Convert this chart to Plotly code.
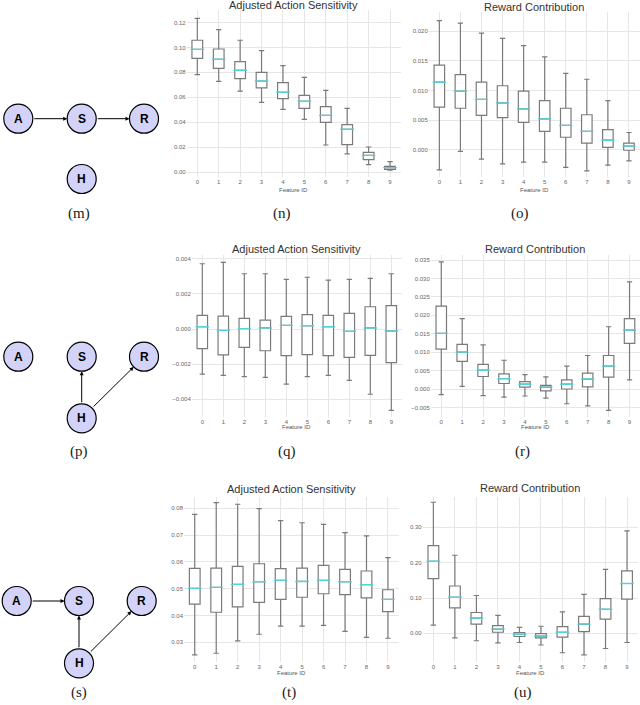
import plotly.graph_objects as go

W, H = 640, 705

feature_ids = list(range(10))
feature_labels = [str(i) for i in feature_ids]

# ---------------- data ----------------
# (n) Adjusted Action Sensitivity, graph m
n_upper = [0.1234, 0.1143, 0.1058, 0.0975, 0.0854, 0.0760, 0.0656, 0.0511, 0.0201, 0.0083]
n_q3    = [0.1058, 0.0988, 0.0886, 0.0800, 0.0718, 0.0616, 0.0525, 0.0380, 0.0158, 0.0046]
n_med   = [0.0985, 0.0905, 0.0817, 0.0731, 0.0640, 0.0568, 0.0455, 0.0343, 0.0134, 0.0035]
n_q1    = [0.0913, 0.0833, 0.0750, 0.0675, 0.0589, 0.0511, 0.0399, 0.0220, 0.0099, 0.0022]
n_lower = [0.0782, 0.0728, 0.0650, 0.0560, 0.0503, 0.0423, 0.0217, 0.0145, 0.0059, 0.0015]

# (o) Reward Contribution, graph m
o_upper = [0.0218, 0.0214, 0.0197, 0.0188, 0.0176, 0.0157, 0.0129, 0.0119, 0.0083, 0.0029]
o_q3    = [0.0143, 0.0127, 0.0114, 0.0108, 0.0099, 0.0083, 0.0070, 0.0059, 0.0034, 0.0011]
o_med   = [0.0114, 0.0099, 0.0085, 0.0079, 0.0069, 0.0052, 0.0041, 0.0031, 0.0016, 0.0006]
o_q1    = [0.0072, 0.0070, 0.0058, 0.0054, 0.0046, 0.0031, 0.0021, 0.0011, 0.0004, -0.0001]
o_lower = [-0.0034, -0.0003, -0.0016, -0.0024, -0.0021, -0.0021, -0.0030, -0.0036, -0.0026, -0.0019]

# (q) Adjusted Action Sensitivity, graph p
q_upper = [0.00372, 0.00380, 0.00315, 0.00315, 0.00283, 0.00295, 0.00279, 0.00283, 0.00289, 0.00315]
q_q3    = [0.00078, 0.00074, 0.00061, 0.00051, 0.00072, 0.00082, 0.00078, 0.00089, 0.00127, 0.00133]
q_med   = [0.00013, -0.00008, 0.00002, 0.00006, 0.00021, 0.00019, 0.00013, -0.00013, 0.00006, -0.00011]
q_q1    = [-0.00112, -0.00148, -0.00105, -0.00124, -0.00152, -0.00146, -0.00152, -0.00162, -0.00150, -0.00192]
q_lower = [-0.00257, -0.00264, -0.00272, -0.00276, -0.00314, -0.00272, -0.00264, -0.00293, -0.00372, -0.00464]

# (r) Reward Contribution, graph p
r_upper = [0.0345, 0.0191, 0.0120, 0.0078, 0.0039, 0.0033, 0.0062, 0.0091, 0.0169, 0.0291]
r_q3    = [0.0225, 0.0121, 0.0067, 0.0041, 0.0020, 0.0010, 0.0025, 0.0043, 0.0091, 0.0191]
r_med   = [0.0151, 0.0100, 0.0051, 0.0028, 0.0013, 0.0005, 0.0013, 0.0027, 0.0062, 0.0160]
r_q1    = [0.0108, 0.0075, 0.0034, 0.0015, 0.0005, -0.0005, 0.0000, 0.0006, 0.0032, 0.0124]
r_lower = [-0.0015, 0.0007, -0.0018, -0.0022, -0.0019, -0.0025, -0.0040, -0.0046, -0.0058, 0.0025]

# (t) Adjusted Action Sensitivity, graph s
t_upper = [0.0777, 0.0821, 0.0815, 0.0799, 0.0754, 0.0746, 0.0740, 0.0709, 0.0697, 0.0616]
t_q3    = [0.0576, 0.0577, 0.0583, 0.0593, 0.0575, 0.0577, 0.0587, 0.0572, 0.0566, 0.0496]
t_med   = [0.0501, 0.0505, 0.0516, 0.0526, 0.0531, 0.0527, 0.0531, 0.0526, 0.0515, 0.0460]
t_q1    = [0.0442, 0.0412, 0.0432, 0.0449, 0.0460, 0.0468, 0.0481, 0.0478, 0.0466, 0.0414]
t_lower = [0.0253, 0.0259, 0.0305, 0.0330, 0.0360, 0.0360, 0.0363, 0.0341, 0.0318, 0.0315]

# (u) Reward Contribution, graph s
u_upper = [0.371, 0.221, 0.107, 0.051, 0.017, 0.020, 0.061, 0.110, 0.181, 0.290]
u_q3    = [0.248, 0.134, 0.059, 0.022, 0.002, -0.001, 0.019, 0.048, 0.098, 0.177]
u_med   = [0.204, 0.102, 0.043, 0.012, -0.003, -0.008, 0.003, 0.026, 0.068, 0.141]
u_q1    = [0.155, 0.072, 0.026, 0.003, -0.009, -0.013, -0.011, 0.005, 0.040, 0.097]
u_lower = [0.023, -0.013, -0.021, -0.027, -0.026, -0.033, -0.055, -0.061, -0.043, -0.026]

# tick labels
n_ticks = [0.00, 0.02, 0.04, 0.06, 0.08, 0.10, 0.12]
o_ticks = [0.000, 0.005, 0.010, 0.015, 0.020]
q_ticks = [-0.004, -0.002, 0.000, 0.002, 0.004]
r_ticks = [-0.005, 0.000, 0.005, 0.010, 0.015, 0.020, 0.025, 0.030, 0.035]
t_ticks = [0.03, 0.04, 0.05, 0.06, 0.07, 0.08]
u_ticks = [0.00, 0.10, 0.20, 0.30]

title_left = "Adjusted Action Sensitivity"
title_right = "Reward Contribution"
xlabel = "Feature ID"
sub_labels = ["(m)", "(n)", "(o)", "(p)", "(q)", "(r)", "(s)", "(t)", "(u)"]

# ---------------- layout constants (pixels) ----------------
panels = [
    dict(data=(n_lower, n_q1, n_med, n_q3, n_upper), ticks=n_ticks, fmt=".2f",
         xpx=(186.6, 400.7), ypx=(10, 177), yr=(-0.0040, 0.1301), title=title_left, ty=5,
         xl_y=190),
    dict(data=(o_lower, o_q1, o_med, o_q3, o_upper), ticks=o_ticks, fmt=".3f",
         xpx=(428.8, 639.5), ypx=(12, 177), yr=(-0.00462, 0.02327), title=title_right, ty=7,
         xl_y=190),
    dict(data=(q_lower, q_q1, q_med, q_q3, q_upper), ticks=q_ticks, fmt=".3f",
         xpx=(191.8, 401.8), ypx=(255, 416.7), yr=(-0.0050, 0.00422), title=title_left, ty=249,
         xl_y=427),
    dict(data=(r_lower, r_q1, r_med, r_q3, r_upper), ticks=r_ticks, fmt=".3f",
         xpx=(430.8, 640.0), ypx=(255, 416.7), yr=(-0.00752, 0.03638), title=title_right, ty=249,
         xl_y=427),
    dict(data=(t_lower, t_q1, t_med, t_q3, t_upper), ticks=t_ticks, fmt=".2f",
         xpx=(184.0, 398.7), ypx=(496.7, 661.7), yr=(0.02275, 0.08432), title=title_left, ty=489,
         xl_y=673),
    dict(data=(u_lower, u_q1, u_med, u_q3, u_upper), ticks=u_ticks, fmt=".2f",
         xpx=(422.6, 637.8), ypx=(496.7, 661.7), yr=(-0.0803, 0.3867), title=title_right, ty=488,
         xl_y=673),
]

def px(x):
    return x / W

def py(y):
    return 1 - y / H

BOX_LINE = "#7a7a7a"
MEDIAN = "#55d2d6"
GRID = "#e6e6e6"
TICKFONT = dict(family="Liberation Sans, Arial, sans-serif", size=6, color="#666666")

fig = go.Figure()
layout = dict(width=W, height=H, margin=dict(l=0, r=0, t=0, b=0),
              plot_bgcolor="white", paper_bgcolor="white", showlegend=False)
annotations = []
shapes = []

for i, p in enumerate(panels):
    k = i + 1
    xa = "x" if k == 1 else f"x{k}"
    ya = "y" if k == 1 else f"y{k}"
    lower, q1, med, q3, upper = p["data"]
    fig.add_trace(go.Box(
        x=feature_ids, q1=q1, median=med, q3=q3, lowerfence=lower, upperfence=upper,
        width=0.5, whiskerwidth=0.5, fillcolor="white",
        line=dict(color=BOX_LINE, width=1.2), xaxis=xa, yaxis=ya, hoverinfo="skip"))
    box_px = 0.5 * (p["xpx"][1] - p["xpx"][0]) / 10.0
    fig.add_trace(go.Scatter(
        x=feature_ids, y=med, mode="markers", xaxis=xa, yaxis=ya, hoverinfo="skip",
        marker=dict(symbol="line-ew", size=box_px - 1,
                    line=dict(color=MEDIAN, width=1.4))))
    xkey = "xaxis" if k == 1 else f"xaxis{k}"
    ykey = "yaxis" if k == 1 else f"yaxis{k}"
    layout[xkey] = dict(domain=[px(p["xpx"][0]), px(p["xpx"][1])], anchor=ya,
                        range=[-0.5, 9.5], tickvals=feature_ids, ticktext=feature_labels,
                        showgrid=True, gridcolor=GRID, gridwidth=1, zeroline=False,
                        showline=False, ticks="", tickfont=TICKFONT, fixedrange=True)
    layout[ykey] = dict(domain=[py(p["ypx"][1]), py(p["ypx"][0])], anchor=xa,
                        range=list(p["yr"]), tickvals=p["ticks"],
                        ticktext=[format(v, p["fmt"]).replace("-", "\u2212") for v in p["ticks"]],
                        showgrid=True, gridcolor=GRID, gridwidth=1, zeroline=False,
                        showline=False, ticks="", tickfont=TICKFONT, fixedrange=True)
    cx = (p["xpx"][0] + p["xpx"][1]) / 2
    annotations.append(dict(text=p["title"], x=px(cx), y=py(p["ty"]), xref="paper", yref="paper",
                            showarrow=False, xanchor="center", yanchor="middle",
                            font=dict(family="Liberation Sans, Arial, sans-serif", size=11,
                                      color="#333333")))
    annotations.append(dict(text=xlabel, x=px(cx), y=py(p["xl_y"]), xref="paper", yref="paper",
                            showarrow=False, xanchor="center", yanchor="middle",
                            font=dict(family="Liberation Sans, Arial, sans-serif", size=6,
                                      color="#555555")))

# sub-figure labels
label_pos = [(79, 213), (282, 213), (520, 213),
             (79, 451), (287, 451), (522, 451),
             (79, 692), (289, 692), (523, 692)]
for lab, (lx, ly) in zip(sub_labels, label_pos):
    annotations.append(dict(text=lab, x=px(lx), y=py(ly), xref="paper", yref="paper",
                            showarrow=False, xanchor="center", yanchor="middle",
                            font=dict(family="Liberation Serif, DejaVu Serif, serif", size=15,
                                      color="#222222")))

# causal graphs
NODE_R = 14.5
NODE_FILL = "#d3d3f9"
graphs = [
    dict(nodes={"A": (18.3, 118.7), "S": (81.7, 118.7), "R": (144, 118.7), "H": (81.7, 179)},
         edges=[("A", "S"), ("S", "R")]),
    dict(nodes={"A": (18.3, 356.7), "S": (81.7, 356.7), "R": (144, 356.7), "H": (81.7, 418.3)},
         edges=[("H", "S"), ("H", "R")]),
    dict(nodes={"A": (16.7, 601), "S": (79, 601), "R": (141.7, 601), "H": (79, 663.3)},
         edges=[("A", "S"), ("H", "S"), ("H", "R")]),
]
for g in graphs:
    for name, (cx, cy) in g["nodes"].items():
        shapes.append(dict(type="circle", xref="paper", yref="paper",
                           x0=px(cx - NODE_R), x1=px(cx + NODE_R),
                           y0=py(cy + NODE_R), y1=py(cy - NODE_R),
                           fillcolor=NODE_FILL, line=dict(color="black", width=1.2)))
        annotations.append(dict(text=f"<b>{name}</b>", x=px(cx), y=py(cy), xref="paper",
                                yref="paper", showarrow=False, xanchor="center",
                                yanchor="middle",
                                font=dict(family="Liberation Sans, Arial, sans-serif", size=12,
                                          color="black")))
    for a, b in g["edges"]:
        (x0, y0), (x1, y1) = g["nodes"][a], g["nodes"][b]
        dx, dy = x1 - x0, y1 - y0
        d = (dx * dx + dy * dy) ** 0.5
        ux, uy = dx / d, dy / d
        tx, ty = x0 + ux * NODE_R, y0 + uy * NODE_R
        hx, hy = x1 - ux * NODE_R, y1 - uy * NODE_R
        annotations.append(dict(text="", x=px(hx), y=py(hy), xref="paper", yref="paper",
                                ax=tx - hx, ay=ty - hy, axref="pixel", ayref="pixel",
                                showarrow=True, arrowhead=2, arrowsize=0.8, arrowwidth=1,
                                arrowcolor="black"))

layout["annotations"] = annotations
layout["shapes"] = shapes
fig.update_layout(**layout)
fig.write_html("out.html", config={"displayModeBar": False},
               post_script="document.body.style.margin='0';document.body.style.overflow='hidden';")
